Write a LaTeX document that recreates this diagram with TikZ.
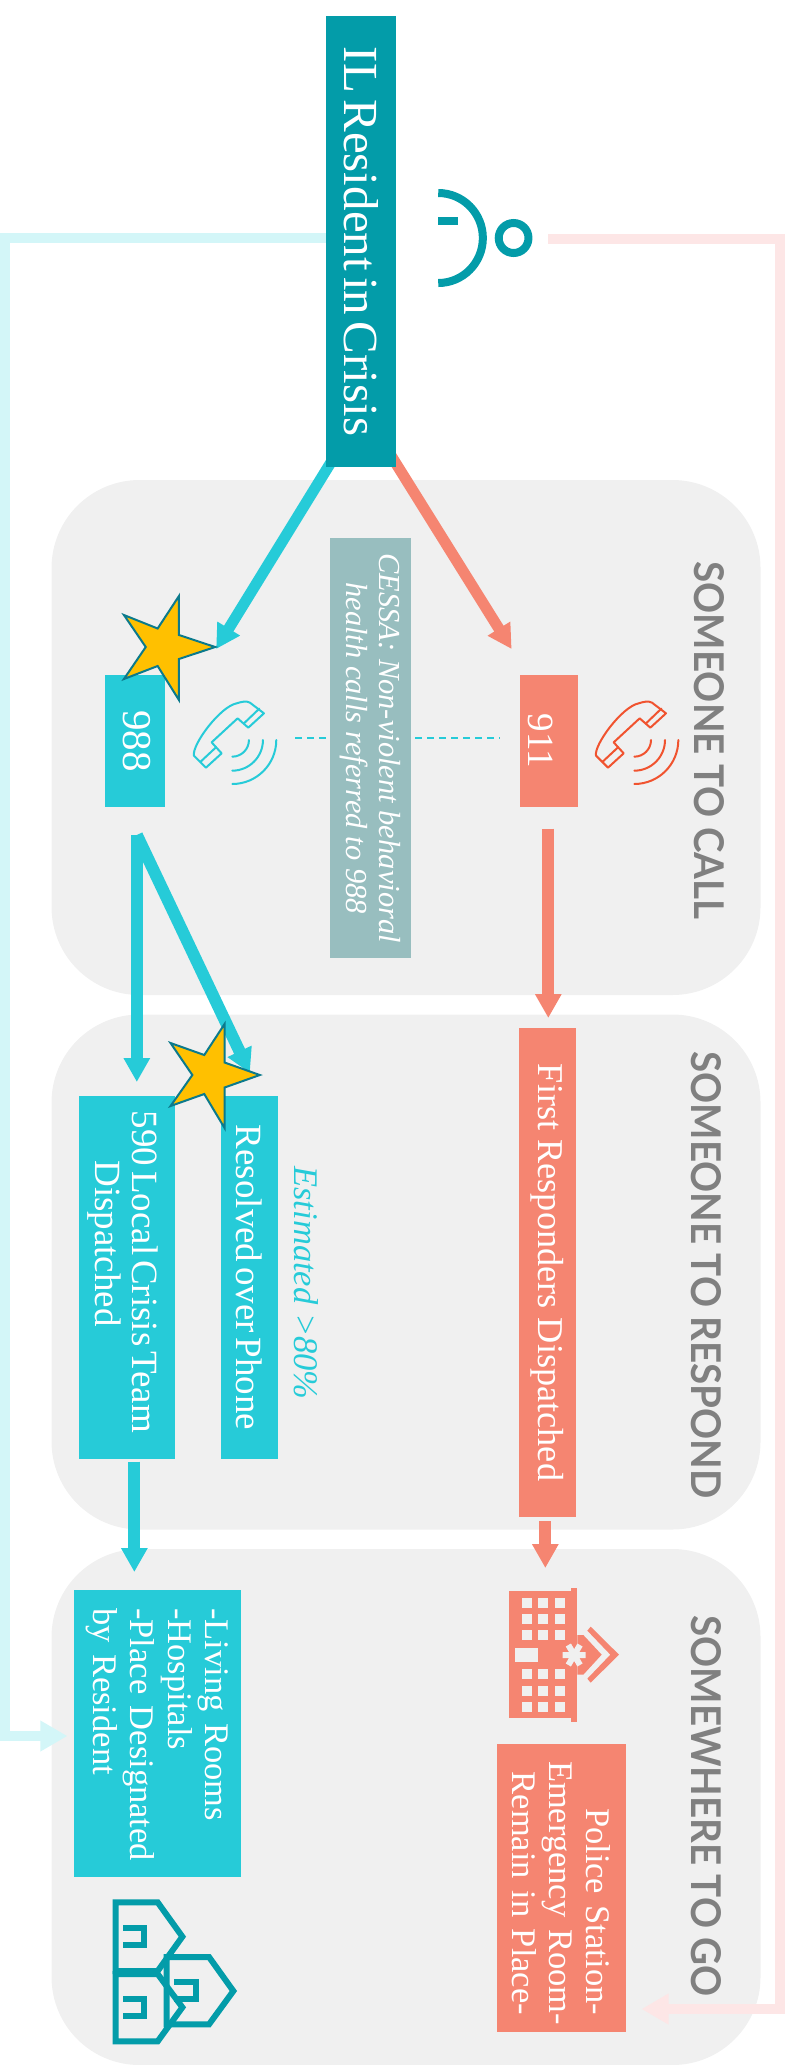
\documentclass[tikz,border=0pt]{standalone}
\usepackage{fontspec}
\setmainfont{Liberation Serif}
\newfontfamily\headfont{Lato}[BoldFont={Lato Bold}]
\usetikzlibrary{arrows.meta}
\definecolor{tealc}{HTML}{039CA9}
\definecolor{cyanc}{HTML}{26CBD8}
\definecolor{salmonc}{HTML}{F58571}
\definecolor{panelc}{HTML}{F0F0F0}
\definecolor{cessac}{HTML}{98BEBF}
\definecolor{lcyan}{HTML}{D3F6F8}
\definecolor{lpink}{HTML}{FDE6E6}
\definecolor{headc}{HTML}{808080}
\definecolor{starline}{HTML}{0B7A8C}
\definecolor{starfill}{HTML}{FFC000}
\definecolor{phonered}{HTML}{F0532F}
\newcommand{\narrowsp}{\spaceskip=.13em\relax}
\newcommand{\headtext}[1]{\scalebox{0.94}[1]{#1}}
\tikzset{
 panel/.style={fill=panelc,rounded corners=88pt,minimum width=709pt,minimum height=515pt,inner sep=0pt},
 boxbase/.style={rotate=-90,inner sep=0pt,text=white,font=\fontsize{37}{37}\selectfont\narrowsp},
 tealbox/.style={boxbase,fill=tealc},
 cyanbox/.style={boxbase,fill=cyanc},
 salmonbox/.style={boxbase,fill=salmonc},
 cessabox/.style={boxbase,fill=cessac,font=\fontsize{30.5}{33}\selectfont\itshape},
 heading/.style={rotate=-90,inner sep=0pt,text=headc,font=\fontsize{41}{41}\selectfont\headfont\bfseries},
 cyanarrow/.style={draw=cyanc,line width=12pt,-{Triangle[length=24pt,width=25pt]}},
 salmonarrow/.style={draw=salmonc,line width=12pt,-{Triangle[length=24pt,width=25pt]}},
 lightarrow/.style={line width=10pt,line join=miter,-{Triangle[length=27pt,width=29pt]}},
 starshape/.style={draw=starline,fill=starfill,line width=2pt,line join=miter},
 iconline/.style={line width=2pt,line join=round,line cap=round},
 houseline/.style={draw=tealc,line width=6pt,line join=miter},
 dashlink/.style={draw=cyanc,line width=1.5pt,dash pattern=on 7pt off 5pt}
}
\newcommand{\phoneicon}[2]{%
 \begin{scope}[shift={(#1,690)},x=0.3333pt,y=-0.3333pt]
  \draw[iconline,draw=#2] (210,38) -- (252,70) -- (205,113) -- (173,85) -- (95,157) -- (125,190) -- (78,233) -- (42,197)
    .. controls (35,165) and (120,50) .. (170,40) .. controls (185,35) and (200,32) .. (210,38) -- cycle;
  \draw[iconline,draw=#2] (192,100) -- (238,56) (62,215) -- (108,172);
  \draw[iconline,draw=#2] (207,150) arc[start angle=0,end angle=90,radius=50];
  \draw[iconline,draw=#2] (249,150) arc[start angle=0,end angle=90,radius=92];
  \draw[iconline,draw=#2] (289,150) arc[start angle=0,end angle=90,radius=132];
 \end{scope}}
\begin{document}
\begin{tikzpicture}[x=0.9915pt,y=-1pt]
\useasboundingbox (0,0) rectangle (799.8,2065);
% panels
\node[panel] (p1) at (409.5,737.5) {};
\node[panel] (p2) at (409.5,1272) {};
\node[panel,minimum height=516pt] (p3) at (409.5,1807) {};
% free ends
\coordinate (c988tip) at (218,649);
\coordinate (c911tip) at (516,649);
\coordinate (cStartL) at (334,462);
\coordinate (cStartR) at (394,455);
\coordinate (lcA) at (329,238);
\coordinate (lcB) at (5,238);
\coordinate (lcC) at (5,1736);
\coordinate (lcD) at (68,1736);
\coordinate (lpA) at (553,239);
\coordinate (lpB) at (787,239);
\coordinate (lpC) at (787,2009);
\coordinate (lpD) at (647,2009);
\coordinate (a988s) at (138,835);
\coordinate (a988t) at (138,1082);
\coordinate (a988r) at (252,1073);
\coordinate (a911s) at (553,828.5);
\coordinate (a911t) at (553,1018);
\coordinate (a590s) at (135.5,1461.5);
\coordinate (a590t) at (135.5,1572);
\coordinate (afrs) at (550,1521);
\coordinate (afrt) at (550,1568);
\coordinate (dashA) at (298,738);
\coordinate (dashB) at (504,738);
% connectors
\draw[lightarrow,draw=lcyan] (lcA) -- (lcB) -- (lcC) -- (lcD);
\draw[lightarrow,draw=lpink] (lpA) -- (lpB) -- (lpC) -- (lpD);
\draw[cyanarrow,line width=11pt] (cStartL) -- (c988tip);
\draw[salmonarrow,line width=11pt] (cStartR) -- (c911tip);
\draw[cyanarrow] (a988s) -- (a988t);
\draw[cyanarrow] (a988s) -- (a988r);
\draw[salmonarrow] (a911s) -- (a911t);
\draw[cyanarrow] (a590s) -- (a590t);
\draw[salmonarrow] (afrs) -- (afrt);
\draw[dashlink] (dashA) -- (dashB);
% boxes
\node[tealbox,minimum width=451pt,minimum height=69.4pt,font=\fontsize{49}{49}\selectfont\narrowsp] (title) at (364,241.5) {IL Resident in Crisis};
\node[cessabox,minimum width=420pt,minimum height=81.3pt,align=center] (cessa) at (374,748) {CESSA: Non-violent behavioral\\health calls referred to 988};
\node[cyanbox,minimum width=132pt,minimum height=59.5pt,text height=22pt,text depth=0pt,font=\fontsize{41}{41}\selectfont] (b988) at (136,741) {988};
\node[salmonbox,minimum width=132pt,minimum height=58.5pt,text height=40pt,text depth=0pt] (b911) at (553.5,741) {911};
\node[cyanbox,minimum width=363pt,minimum height=95.7pt,align=center] (b590) at (128.25,1277.5) {\rule{0pt}{34pt}590 Local Crisis Team\hspace*{11pt}\mbox{}\\Dispatched\mbox{}\hspace*{68pt}\mbox{}};
\node[cyanbox,minimum width=363pt,minimum height=57pt] (bres) at (251.75,1277.5) {Resolved over Phone};
\node[rotate=-90,inner sep=0pt,text=cyanc,font=\fontsize{34.5}{36}\selectfont\itshape] (est) at (309,1283) {Estimated >80\%};
\node[salmonbox,minimum width=488.5pt,minimum height=57.5pt,font=\fontsize{36.3}{37}\selectfont] (bfirst) at (552,1272.5) {First Responders Dispatched};
\node[cyanbox,minimum width=287.4pt,minimum height=167pt,text width=251pt,align=left,font=\fontsize{34.5}{37.5}\selectfont\narrowsp] (bgo) at (158.75,1733.7) {\mbox{-Living Rooms}\\\mbox{-Hospitals}\\\mbox{-Place Designated}\\\mbox{by Resident}};
\node[salmonbox,minimum width=288pt,minimum height=129pt,text width=254pt,align=right,font=\fontsize{34.5}{37}\selectfont\narrowsp] (bpol) at (566,1888) {\mbox{Police Station-}\\\mbox{Emergency Room-}\\\mbox{Remain in Place-}};
% headings
\node[heading] (h1) at (715,740.5) {\headtext{SOMEONE TO CALL}};
\node[heading] (h2) at (712.5,1275) {\headtext{SOMEONE TO RESPOND}};
\node[heading] (h3) at (712.5,1806) {\headtext{SOMEWHERE TO GO}};
% stars
\draw[starshape] (217,647) -- (180.5,635) -- (180.5,596) -- (159,628.5) -- (125,615) -- (147,647) -- (125,679) -- (159,666) -- (180.5,700) -- (180.5,659) -- cycle;
\draw[starshape] (262,1075) -- (226.5,1062.5) -- (226.5,1024) -- (206,1055) -- (172,1043) -- (194,1075) -- (172,1106) -- (206,1094) -- (226.5,1128) -- (226.5,1087.5) -- cycle;
% person
\draw[tealc,line width=8pt] (442,193) arc[start angle=-90,end angle=90,radius=45];
\fill[tealc] (442,216.5) rectangle (462,224.5);
\draw[tealc,line width=8pt] (518,238) circle[radius=15];
% phones
\phoneicon{181.5}{cyanc}
\phoneicon{587}{phonered}
% hospital
\begin{scope}[shift={(504.3,1580)},x=0.3333pt,y=-0.3333pt]
 \fill[salmonc] (27,33) rectangle (232,415);
 \fill[salmonc] (213,23) rectangle (232,425);
 \fill[salmonc] (232,165) -- (250,165) -- (305,224) -- (250,284) -- (232,284) -- cycle;
 \fill[salmonc] (262,152) -- (272,140) -- (357,224) -- (272,308) -- (262,296) -- (331,224) -- cycle;
 \foreach \wx in {66,115,164}{\foreach \wy in {53,102,151,268,317,366}{
   \fill[panelc] (\wx,\wy) rectangle ++(30,30);}}
 \fill[panelc] (46,205) rectangle (115,245);
 \draw[panelc,line width=6pt] (188,225) -- (257,225) (205,195) -- (240,255) (240,195) -- (205,255);
\end{scope}
% houses
\begin{scope}[shift={(100.9,1890)},x=0.3333pt,y=-0.3333pt]
 \draw[houseline] (47,37) -- (173,37) -- (247,140) -- (173,243) -- (47,243) -- cycle;
 \draw[houseline] (47,252) -- (173,252) -- (247,352) -- (173,454) -- (47,454) -- cycle;
 \draw[houseline] (200,201) -- (327,201) -- (400,303) -- (327,403) -- (200,403) -- cycle;
 \draw[houseline] (69,114) -- (133,114) -- (133,165) -- (69,165);
 \draw[houseline] (69,327) -- (133,327) -- (133,378) -- (69,378);
 \draw[houseline] (222,277) -- (287,277) -- (287,327) -- (222,327);
\end{scope}
\end{tikzpicture}
\end{document}
